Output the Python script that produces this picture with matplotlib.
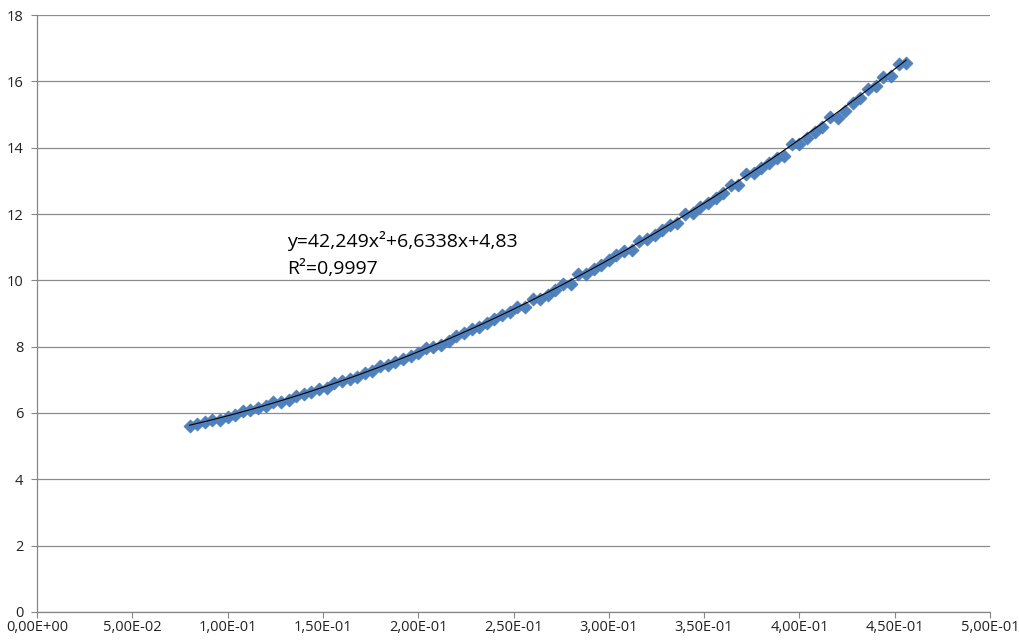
import numpy as np
import matplotlib
matplotlib.use('Agg')
import matplotlib.pyplot as plt
from matplotlib.ticker import FuncFormatter, MultipleLocator

# measured points (x, y)
x_vals = [0.080, 0.084, 0.088, 0.092, 0.096, 0.100, 0.104, 0.108, 0.112, 0.116,
          0.120, 0.124, 0.128, 0.132, 0.136, 0.140, 0.144, 0.148, 0.152, 0.156,
          0.160, 0.164, 0.168, 0.172, 0.176, 0.180, 0.184, 0.188, 0.192, 0.196,
          0.200, 0.204, 0.208, 0.212, 0.216, 0.220, 0.224, 0.228, 0.232, 0.236,
          0.240, 0.244, 0.248, 0.252, 0.256, 0.260, 0.264, 0.268, 0.272, 0.276,
          0.280, 0.284, 0.288, 0.292, 0.296, 0.300, 0.304, 0.308, 0.312, 0.316,
          0.320, 0.324, 0.328, 0.332, 0.336, 0.340, 0.344, 0.348, 0.352, 0.356,
          0.360, 0.364, 0.368, 0.372, 0.376, 0.380, 0.384, 0.388, 0.392, 0.396,
          0.400, 0.404, 0.408, 0.412, 0.416, 0.420, 0.424, 0.428, 0.432, 0.436,
          0.440, 0.444, 0.448, 0.452, 0.456]
y_vals = [5.60, 5.67, 5.72, 5.78, 5.80, 5.88, 5.95, 6.06, 6.10, 6.14,
          6.22, 6.33, 6.34, 6.38, 6.50, 6.56, 6.64, 6.72, 6.76, 6.90,
          6.95, 7.03, 7.10, 7.21, 7.28, 7.41, 7.45, 7.54, 7.64, 7.72,
          7.81, 7.96, 7.98, 8.06, 8.18, 8.32, 8.40, 8.52, 8.58, 8.72,
          8.84, 8.94, 9.06, 9.20, 9.21, 9.43, 9.45, 9.55, 9.70, 9.88,
          9.90, 10.18, 10.20, 10.33, 10.45, 10.60, 10.77, 10.88, 10.92, 11.20,
          11.25, 11.38, 11.52, 11.66, 11.72, 12.00, 12.04, 12.20, 12.32, 12.48,
          12.64, 12.86, 12.88, 13.22, 13.25, 13.38, 13.55, 13.70, 13.74, 14.10,
          14.12, 14.30, 14.48, 14.62, 14.92, 14.90, 15.12, 15.35, 15.50, 15.78,
          15.85, 16.12, 16.15, 16.52, 16.55]

# trendline coefficients as shown on the chart
trend_coefs = [42.249, 6.6338, 4.83]
eq_label = "y=42,249x²+6,6338x+4,83"
r2_label = "R²=0,9997"

plt.rcParams['font.family'] = ['Open Sans', 'DejaVu Sans']

fig = plt.figure(figsize=(10.2, 6.44), dpi=100)
ax = fig.add_axes([0.0363, 0.0497, 0.9343, 0.927])

ax.scatter(x_vals, y_vals, marker='D', s=44, color='#4F81BD',
           edgecolor='#4A7AB5', linewidth=0.5, zorder=3)

xt = np.linspace(min(x_vals), max(x_vals), 300)
ax.plot(xt, np.polyval(trend_coefs, xt), color='black', linewidth=0.8, zorder=4)

ax.text(0.131, 11.0, eq_label, fontsize=14, color='black', va='baseline')
ax.text(0.131, 10.2, r2_label, fontsize=14, color='black', va='baseline')

ax.set_xlim(0, 0.5)
ax.set_ylim(0, 18)
ax.xaxis.set_major_locator(MultipleLocator(0.05))
ax.yaxis.set_major_locator(MultipleLocator(2))
ax.xaxis.set_major_formatter(FuncFormatter(lambda v, p: f"{v:.2E}".replace('.', ',')))
ax.yaxis.set_major_formatter(FuncFormatter(lambda v, p: f"{v:.0f}"))

ax.grid(True, axis='y', color='#8c8c8c', linewidth=0.9)
ax.set_axisbelow(True)
for side in ('top', 'right'):
    ax.spines[side].set_visible(False)
for side in ('left', 'bottom'):
    ax.spines[side].set_color('#868686')
    ax.spines[side].set_linewidth(0.9)
ax.tick_params(axis='both', direction='out', length=4, color='#868686',
               labelsize=10.5, labelcolor='#222222')
ax.tick_params(axis='x', pad=2)
ax.tick_params(axis='y', pad=6)

plt.savefig('out.png', dpi=100)
